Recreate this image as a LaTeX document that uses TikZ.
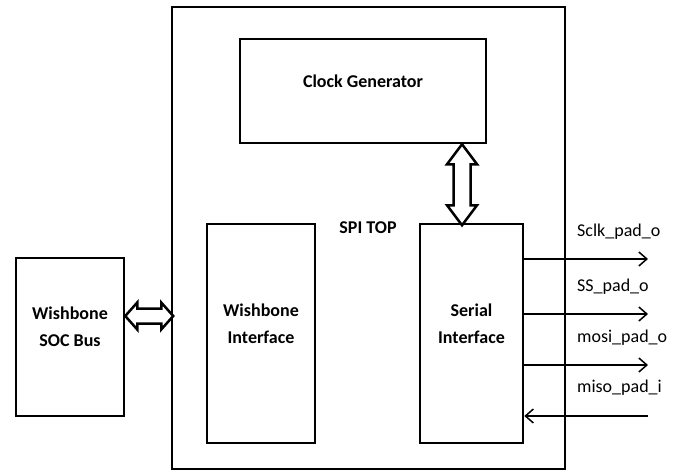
\documentclass[tikz,border=0pt]{standalone}
\usepackage{fontspec}
\setmainfont{Carlito}
\usetikzlibrary{arrows.meta}
\begin{document}
\begin{tikzpicture}[x=1pt,y=-1pt,
  box/.style={draw,line width=2.5pt,inner sep=0pt},
  boxtxt/.style={font=\fontsize{18}{27}\selectfont\bfseries,align=center,yshift=10pt},
  sig/.style={line width=1.5pt,-{Straight Barb[length=8pt,width=14pt,line width=1.5pt]}},
  siglbl/.style={font=\fontsize{18}{22}\selectfont,anchor=west,inner sep=0pt},
  fatarrow/.style={line width=2.5pt,fill=white,line join=miter}]
  \useasboundingbox (0,0) rectangle (680,471);
  \node[box,minimum width=393pt,minimum height=462pt] (top) at (368.5,238) {};
  \node[box,minimum width=246pt,minimum height=104pt,
    label={[boxtxt]center:Clock Generator}] (clk) at (363,91) {};
  \node[font=\fontsize{18}{22}\selectfont\bfseries] (spi) at (368,228) {SPI TOP};
  \node[box,minimum width=108pt,minimum height=219pt,
    label={[boxtxt]center:Wishbone\\Interface}] (wbi) at (261,333.5) {};
  \node[box,minimum width=103pt,minimum height=219pt,
    label={[boxtxt]center:Serial\\Interface}] (ser) at (471.5,333.5) {};
  \node[box,minimum width=108pt,minimum height=158pt,
    label={[boxtxt]center:Wishbone\\SOC Bus}] (bus) at (70,337) {};
  \coordinate (ax) at (462,0);
  \coordinate (hy) at (0,316);
  \draw[fatarrow] (clk.south -| ax) -- ++(15,20) -- ++(-6.5,0) -- ++(0,41) -- ++(6.5,0)
    -- ++(-15,20) -- ++(-15,-20) -- ++(6.5,0) -- ++(0,-41) -- ++(-6.5,0) -- cycle;
  \draw[fatarrow] (bus.east |- hy) -- ++(12,-13.5) -- ++(0,6) -- ++(24,0) -- ++(0,-6)
    -- ++(12,13.5) -- ++(-12,13.5) -- ++(0,-6) -- ++(-24,0) -- ++(0,6) -- cycle;
  \coordinate (sclk) at (648,259);
  \coordinate (ss) at (648,314);
  \coordinate (mosi) at (648,365);
  \coordinate (miso) at (648,416);
  \draw[sig] (ser.east |- sclk) -- (sclk);
  \draw[sig] (ser.east |- ss) -- (ss);
  \draw[sig] (ser.east |- mosi) -- (mosi);
  \draw[sig] (miso) -- (ser.east |- miso);
  \node[siglbl] (sclklbl) at (577,232) {Sclk\_pad\_o};
  \node[siglbl] (sslbl) at (577,287) {SS\_pad\_o};
  \node[siglbl] (mosilbl) at (577,338) {mosi\_pad\_o};
  \node[siglbl] (misolbl) at (577,388) {miso\_pad\_i};
\end{tikzpicture}
\end{document}
